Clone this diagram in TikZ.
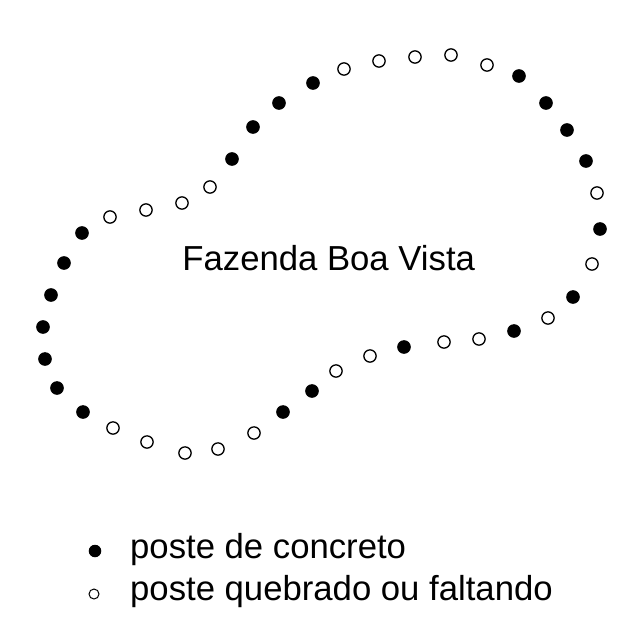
\documentclass[tikz,border=0pt]{standalone}
\usepackage{fontspec}
\setmainfont{Liberation Sans}
\usetikzlibrary{positioning}
\tikzset{
    poste/.style = {circle, inner sep=0pt, minimum size=12.3pt, line width=1.3pt, draw=black},
    concreto/.style = {poste, fill=black},
    quebrado/.style = {poste, fill=white},
    simbolo/.style = {circle, inner sep=0pt, draw=black, line width=1pt},
    simbcheio/.style = {simbolo, fill=black, minimum size=11.5pt},
    simbvazio/.style = {simbolo, fill=white, minimum size=10pt},
    rotulo/.style = {inner sep=0pt, font=\fontsize{34.7}{40}\selectfont}
}
\begin{document}
\begin{tikzpicture}[x=1pt, y=-1pt]
    \useasboundingbox (0,0) rectangle (628,622);
    \foreach \x/\y/\tipo [count=\i] in {
        64/263/concreto, 82/233/concreto, 110/217/quebrado, 146/210/quebrado,
        182/203/quebrado, 210/187/quebrado, 232/159/concreto, 253/127/concreto,
        279/103/concreto, 313/83/concreto, 344/69/quebrado, 379/61/quebrado,
        415/57/quebrado, 451/55/quebrado, 487/65/quebrado, 519/76/concreto,
        546/103/concreto, 567/130/concreto, 586/161/concreto, 597/193/quebrado,
        600/229/concreto, 592/264/quebrado, 573/297/concreto, 548/318/quebrado,
        514/331/concreto, 479/339/quebrado, 444/342/quebrado, 404/347/concreto,
        370/356/quebrado, 336/371/quebrado, 312/391/concreto, 283/412/concreto,
        254/433/quebrado, 218/449/quebrado, 185/453/quebrado, 147/442/quebrado,
        113/428/quebrado, 83/412/concreto, 57/388/concreto, 45/359/concreto,
        43/327/concreto, 51/295/concreto}
        \node[\tipo] (poste\i) at (\x,\y) {};
    \node[rotulo, anchor=base] (fazenda) at (328.7,270) {Fazenda Boa Vista};
    \node[rotulo, anchor=base west] (legenda1) at (130,558) {poste de concreto};
    \node[rotulo, anchor=base west] (legenda2) at (130,600) {poste quebrado ou faltando};
    \node[simbcheio] (simb1) at (95,551) {};
    \node[simbvazio] (simb2) at (94,594) {};
\end{tikzpicture}
\end{document}
